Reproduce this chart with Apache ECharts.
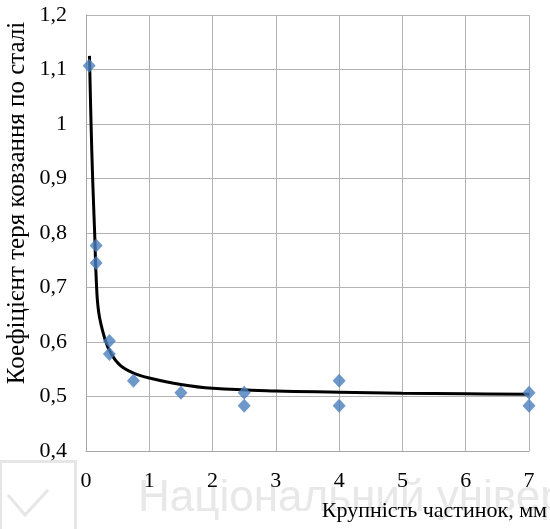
<!DOCTYPE html>
<html lang="uk">
<head>
<meta charset="UTF-8">
<title>Коефіцієнт тертя</title>
<script src="https://cdn.jsdelivr.net/npm/echarts@6/dist/echarts.min.js"></script>
<style>
  html, body { margin: 0; padding: 0; background: #fff; }
  #chart { width: 550px; height: 529px; }
</style>
</head>
<body>
<div id="chart"></div>
<script>
// measured points: particle size (mm) and friction coefficient
const sizeMm = [0.05, 0.16, 0.16, 0.37, 0.37, 0.75, 1.5, 2.5, 2.5, 4, 4, 7, 7];
const friction = [1.107, 0.777, 0.745, 0.602, 0.578, 0.529, 0.507, 0.507, 0.483, 0.529, 0.483, 0.507, 0.483];

// trend curve
const trendX = [0.055, 0.08, 0.105, 0.14, 0.16, 0.2, 0.3, 0.4, 0.55, 0.75, 1.0, 1.5, 2.0, 3.0, 4.0, 5.0, 6.0, 7.0];
const trendY = [1.125, 1.0, 0.9, 0.79, 0.72, 0.655, 0.605, 0.578, 0.556, 0.543, 0.534, 0.522, 0.515, 0.510, 0.508, 0.506, 0.505, 0.504];

const xTicks = [0, 1, 2, 3, 4, 5, 6, 7];
const yTicks = [0.4, 0.5, 0.6, 0.7, 0.8, 0.9, 1.0, 1.1, 1.2];

const serif = '"Liberation Serif", "Times New Roman", serif';
const comma = v => String(+(+v).toFixed(1)).replace('.', ',');

const chart = echarts.init(document.getElementById('chart'));
chart.setOption({
  animation: false,
  grid: { left: 86, right: 21, top: 15, bottom: 78 },
  xAxis: {
    type: 'value',
    min: xTicks[0], max: xTicks[xTicks.length - 1], interval: 1,
    axisLine: { lineStyle: { color: '#a6a6a6' } },
    axisTick: { show: false },
    splitLine: { lineStyle: { color: '#b3b3b3' } },
    axisLabel: { color: '#000', fontFamily: serif, fontSize: 22, margin: 19 }
  },
  yAxis: {
    type: 'value',
    min: yTicks[0], max: yTicks[yTicks.length - 1], interval: 0.1,
    axisLine: { show: true, lineStyle: { color: '#a6a6a6' } },
    axisTick: { show: false },
    splitLine: { lineStyle: { color: '#b3b3b3' } },
    axisLabel: { color: '#000', fontFamily: serif, fontSize: 22, margin: 19, formatter: comma }
  },
  graphic: [
    // faint watermark at the bottom
    { type: 'rect', left: -2, top: 459, shape: { width: 75, height: 80 },
      style: { fill: 'none', stroke: '#e6e6e6', lineWidth: 3 }, z: -1 },
    { type: 'polyline', shape: { points: [[8, 495], [25, 515], [48, 490]] },
      style: { fill: 'none', stroke: '#e6e6e6', lineWidth: 3 }, z: -1 },
    { type: 'text', left: 138, top: 477, z: -1,
      style: { text: 'Національний університет', fill: '#e8e8e8',
               font: '44px "Liberation Sans", Arial, sans-serif' } },
    // axis titles
    { type: 'text', right: 3, top: 500,
      style: { text: 'Крупність частинок, мм', fill: '#000', font: '22px ' + serif } },
    { type: 'text', x: 5, y: 203, rotation: Math.PI / 2,
      style: { text: 'Коефіцієнт теря ковзання по сталі', fill: '#000',
               font: '25px ' + serif, align: 'center', verticalAlign: 'top' } }
  ],
  series: [
    {
      type: 'line',
      data: trendX.map((x, i) => [x, trendY[i]]),
      smooth: 0.4,
      showSymbol: false,
      lineStyle: { color: '#000', width: 3 },
      z: 2
    },
    {
      type: 'scatter',
      data: sizeMm.map((x, i) => [x, friction[i]]),
      symbol: 'diamond',
      symbolSize: [13, 14],
      itemStyle: { color: '#4a7ebb' },
      z: 3
    }
  ]
});
</script>
</body>
</html>
